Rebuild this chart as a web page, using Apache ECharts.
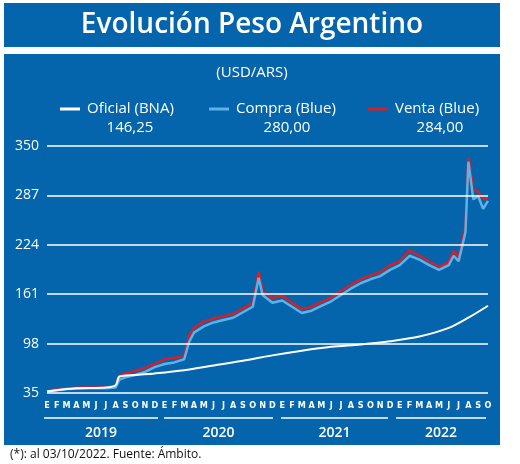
<!DOCTYPE html>
<html>
<head>
<meta charset="utf-8">
<script src="https://cdn.jsdelivr.net/npm/echarts@6/dist/echarts.min.js"></script>
<style>
  body { margin: 0; background: #fff; }
  #chart { width: 520px; height: 464px; }
</style>
</head>
<body>
<div id="chart"></div>
<script>
// meses desde enero 2019 (0 = E 2019)
var monthLetters = ["E","F","M","A","M","J","J","A","S","O","N","D"];
var yTicks = [35, 98, 161, 224, 287, 350];

var oficialX = [0, 3, 6, 7, 7.4, 9, 11, 14, 17, 20, 23, 26, 29, 32, 35, 38, 41, 43, 45];
var oficialY = [37, 41, 42, 45, 56, 58, 60, 64, 70, 76, 83, 89, 94, 97, 101, 107, 118, 131, 146.25];

var compraX = [0, 2, 4, 6, 7, 7.4, 8, 9, 10, 11, 12, 13, 14, 14.5, 15, 16, 17, 18, 19, 20, 21, 21.6, 22, 23, 24, 25, 26, 27, 28, 29, 30, 31, 32, 33, 34, 35, 36, 37, 38, 39, 40, 41, 41.5, 42, 42.7, 43, 43.5, 44, 44.5, 45];
var compraY = [37, 40, 41, 41, 42, 52, 55, 58, 62, 68, 72, 74, 78, 100, 112, 120, 125, 128, 131, 138, 145, 182, 160, 150, 153, 145, 137, 140, 146, 152, 160, 168, 175, 180, 184, 192, 198, 210, 205, 198, 192, 198, 210, 203, 240, 330, 282, 286, 270, 280];
var ventaY = [38, 41, 42, 42, 43, 57, 60, 63, 67, 72, 78, 80, 82, 108, 118, 126, 130, 133, 136, 143, 150, 190, 165, 156, 159, 150, 142, 145, 151, 157, 165, 173, 180, 185, 189, 198, 203, 217, 210, 203, 196, 202, 216, 208, 248, 336, 294, 292, 282, 284];

function pairs(xs, ys) {
  return xs.map(function (x, i) { return [x, ys[i]]; });
}

var yearSegs = [["2019", 44, 158], ["2020", 164, 273], ["2021", 281, 388], ["2022", 396, 486]];

var graphics = [
  { type: 'rect', shape: { x: 4, y: 3, width: 496, height: 44 }, style: { fill: '#0465ad' } },
  { type: 'text', x: 252, y: 25, style: { text: 'Evolución Peso Argentino', fill: '#fff', font: '600 28px "Open Sans"', textAlign: 'center', textVerticalAlign: 'middle' } },
  { type: 'rect', z: -10, shape: { x: 4, y: 54, width: 496, height: 391 }, style: { fill: '#0465ad' } },
  { type: 'text', x: 252, y: 73, style: { text: '(USD/ARS)', fill: '#fff', font: '15px "Open Sans"', textAlign: 'center', textVerticalAlign: 'middle' } },
  { type: 'text', x: 10, y: 455, style: { text: '(*): al 03/10/2022. Fuente: Ámbito.', fill: '#111', font: '12px "Open Sans"', textVerticalAlign: 'middle' } }
];

var legendItems = [
  ["Oficial (BNA)", "146,25", "#ffffff", 60, 130],
  ["Compra (Blue)", "280,00", "#5fb2e6", 209, 287],
  ["Venta (Blue)", "284,00", "#d4202a", 368, 440]
];
legendItems.forEach(function (l) {
  graphics.push({ type: 'line', shape: { x1: l[3], y1: 109, x2: l[3] + 20, y2: 109 }, style: { stroke: l[2], lineWidth: 3 } });
  graphics.push({ type: 'text', x: l[3] + 27, y: 109, style: { text: l[0], fill: '#fff', font: '15px "Open Sans"', textVerticalAlign: 'middle' } });
  graphics.push({ type: 'text', x: l[4], y: 128, style: { text: l[1], fill: '#fff', font: '15px "Open Sans"', textAlign: 'center', textVerticalAlign: 'middle' } });
});
yearSegs.forEach(function (s) {
  graphics.push({ type: 'line', shape: { x1: s[1], y1: 418, x2: s[2], y2: 418 }, style: { stroke: '#fff', lineWidth: 1.5 } });
  graphics.push({ type: 'text', x: (s[1] + s[2]) / 2, y: 433, style: { text: s[0], fill: '#fff', font: '600 14px "Open Sans"', textAlign: 'center', textVerticalAlign: 'middle' } });
});

var chart = echarts.init(document.getElementById('chart'));
chart.setOption({
  animation: false,
  grid: { left: 47, right: 32, top: 146, bottom: 71 },
  xAxis: {
    type: 'value', min: 0, max: 45, interval: 1,
    axisLine: { show: false }, axisTick: { show: false }, splitLine: { show: false },
    axisLabel: {
      color: '#fff', fontFamily: 'DejaVu Sans Condensed', fontSize: 9, fontWeight: 'bold', margin: 8,
      hideOverlap: false, showMinLabel: true, showMaxLabel: true,
      formatter: function (v) { return monthLetters[v % 12]; }
    }
  },
  yAxis: {
    type: 'value', min: 35, max: 350,
    axisLine: { show: false }, axisTick: { show: false }, splitLine: { show: false },
    axisLabel: { color: '#fff', fontFamily: 'Open Sans', fontSize: 14, margin: 8, customValues: yTicks }
  },
  graphic: graphics,
  series: [
    {
      name: 'Venta (Blue)', type: 'line', data: pairs(compraX, ventaY), showSymbol: false,
      lineStyle: { color: '#d4202a', width: 2.5 },
      markLine: {
        silent: true, symbol: 'none', label: { show: false },
        lineStyle: { color: '#fff', width: 1.5, type: 'solid' },
        data: yTicks.map(function (t) { return { yAxis: t }; })
      }
    },
    { name: 'Compra (Blue)', type: 'line', data: pairs(compraX, compraY), showSymbol: false, lineStyle: { color: '#5fb2e6', width: 2.5 } },
    { name: 'Oficial (BNA)', type: 'line', data: pairs(oficialX, oficialY), showSymbol: false, smooth: 0.3, lineStyle: { color: '#fff', width: 2 } }
  ]
});
</script>
</body>
</html>
